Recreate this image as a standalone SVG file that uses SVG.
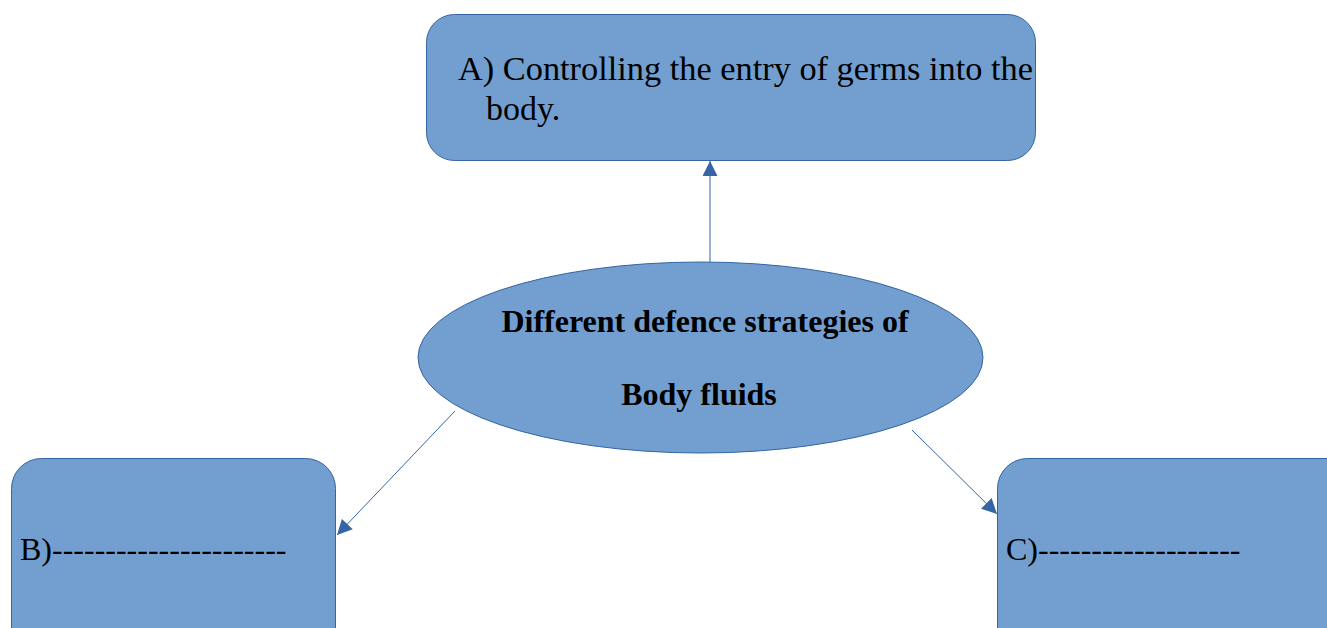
<svg xmlns="http://www.w3.org/2000/svg" width="1327" height="628" viewBox="0 0 1327 628">
<style>
.box{fill:#729fcf;stroke:#3465a4;stroke-width:1}
.t{font-family:"Liberation Serif","Times New Roman",serif;fill:#000}
.c{stroke:#3465a4;stroke-width:1;fill:none}
</style>
<defs>
<marker id="ah" viewBox="0 0 10 10" refX="10" refY="5" markerWidth="16" markerHeight="15" markerUnits="userSpaceOnUse" orient="auto">
<path d="M0,0 L10,5 L0,10 z" fill="#3465a4"/>
</marker>
</defs>
<rect width="1327" height="628" fill="#fff"/>
<g id="connectors">
<line class="c" x1="710" y1="262" x2="710" y2="161" marker-end="url(#ah)"/>
<line class="c" x1="455" y1="411" x2="337" y2="535" marker-end="url(#ah)"/>
<line class="c" x1="912" y1="430" x2="997" y2="514" marker-end="url(#ah)"/>
</g>
<g id="nodeA">
<rect class="box" x="426.5" y="14.5" width="609" height="146" rx="28"/>
<text class="t" x="458" y="80" font-size="34" textLength="575" lengthAdjust="spacingAndGlyphs">A) Controlling the entry of germs into the</text>
<text class="t" x="486" y="120" font-size="34">body.</text>
</g>
<g id="center">
<ellipse class="box" cx="700.5" cy="357.5" rx="282.5" ry="95.5"/>
<text class="t" x="705" y="332" font-size="32" font-weight="bold" text-anchor="middle">Different defence strategies of</text>
<text class="t" x="699" y="405" font-size="32" font-weight="bold" text-anchor="middle">Body fluids</text>
</g>
<g id="nodeB">
<rect class="box" x="11.5" y="458.5" width="324" height="200" rx="30"/>
<text class="t" x="20" y="560" font-size="32">B)----------------------</text>
</g>
<g id="nodeC">
<rect class="box" x="997.5" y="458.5" width="360" height="200" rx="30"/>
<text class="t" x="1006" y="560" font-size="32">C)-------------------</text>
</g>
</svg>
